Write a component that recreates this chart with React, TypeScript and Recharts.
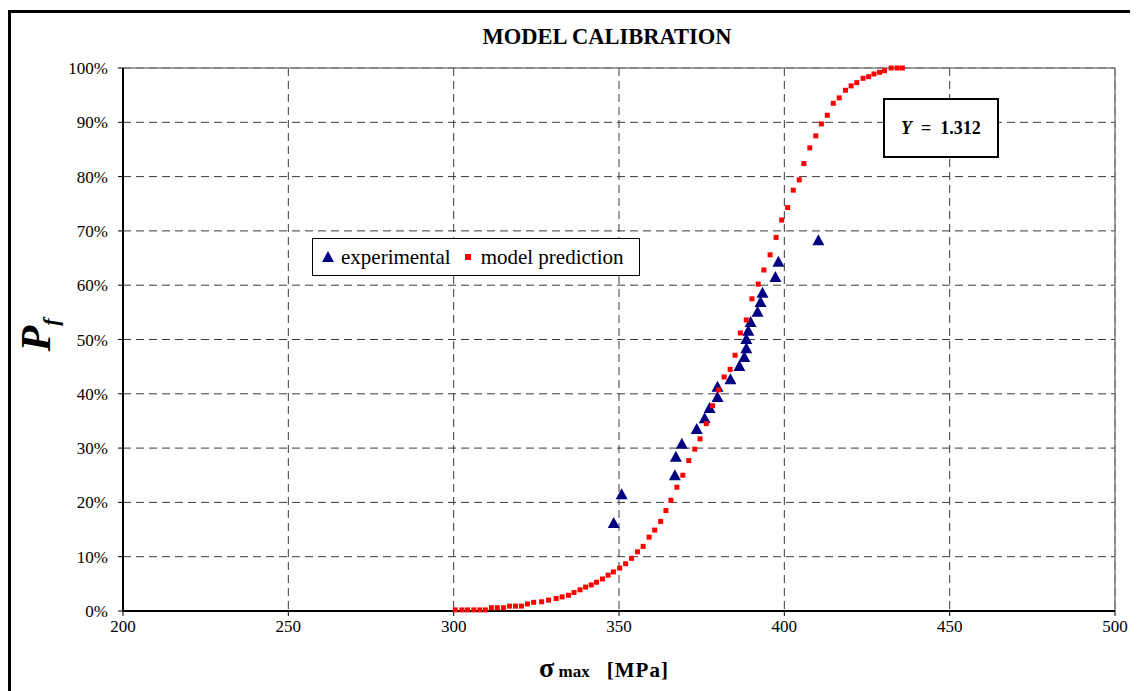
import React from "react"
import {
  ScatterChart, Scatter, XAxis, YAxis, CartesianGrid, ReferenceLine,
} from "recharts"

// experimental points: max stress [MPa] and failure probability [%]
const expStress = [
  348.4, 350.8, 366.9, 367.2, 369.0, 373.5, 375.9, 377.4, 379.8, 379.8, 383.7, 386.4,
  387.9, 388.5, 388.5, 389.1, 389.8, 391.9, 392.8, 393.4, 397.3, 398.2, 410.3,
]
const expPf = [
  16.2, 21.5, 25.0, 28.4, 30.8, 33.5, 35.5, 37.4, 39.4, 41.3, 42.7, 45.1,
  46.8, 48.4, 50.1, 51.6, 53.2, 55.1, 56.9, 58.6, 61.5, 64.3, 68.3,
]

// model prediction curve
const modelStress = [
  300.5, 302.5, 304.2, 306.1, 307.9, 309.6, 311.4, 313.2, 315.1, 316.9, 318.7, 320.5,
  322.3, 324.2, 326.6, 328.7, 331.0, 332.8, 334.7, 336.4, 338.2, 339.9, 341.6, 343.2,
  345.0, 346.7, 348.3, 350.2, 352.0, 353.8, 355.6, 357.3, 359.1, 360.8, 362.6, 364.2,
  365.7, 367.5, 369.3, 371.1, 372.9, 374.5, 376.4, 378.3, 380.1, 381.8, 383.6, 385.1,
  386.7, 388.5, 390.2, 392.1, 393.8, 395.7, 397.5, 399.2, 401.0, 402.7, 404.5, 405.9,
  407.7, 409.5, 411.2, 413.0, 414.8, 416.6, 418.5, 420.2, 421.9, 423.8, 425.5, 427.1,
  428.8, 430.3, 432.3, 434.1, 435.7,
]
const modelPf = [
  0.2, 0.2, 0.2, 0.2, 0.2, 0.2, 0.6, 0.6, 0.6, 0.9, 0.9, 0.9,
  1.3, 1.6, 1.7, 2.0, 2.3, 2.6, 2.9, 3.4, 3.9, 4.4, 4.8, 5.3,
  5.9, 6.6, 7.2, 7.9, 8.7, 9.7, 10.9, 11.9, 13.6, 14.9, 16.5, 18.5,
  20.4, 22.8, 25.0, 27.7, 29.8, 31.7, 34.5, 37.8, 40.7, 43.1, 44.5, 47.1,
  51.2, 53.6, 57.5, 60.2, 62.8, 65.6, 68.8, 72.0, 74.3, 77.5, 79.4, 82.4,
  85.3, 87.5, 89.7, 91.3, 93.5, 94.5, 95.9, 96.7, 97.3, 98.1, 98.4, 98.9,
  99.2, 99.5, 100, 100, 100,
]

const xTicks = [200, 250, 300, 350, 400, 450, 500]
const yTicks = [0, 10, 20, 30, 40, 50, 60, 70, 80, 90, 100]

const serif = '"Liberation Serif", "Times New Roman", serif'

const expData = expStress.map((s, i) => ({ s, p: expPf[i] }))
const modelData = modelStress.map((s, i) => ({ s, p: modelPf[i] }))

function Triangle(props: any) {
  const { cx, cy } = props
  if (cx == null || cy == null) return null
  return <polygon points={`${cx},${cy - 6} ${cx - 6},${cy + 5} ${cx + 6},${cy + 5}`} fill="#000080" />
}

function Square(props: any) {
  const { cx, cy } = props
  if (cx == null || cy == null) return null
  return <rect x={cx - 2.5} y={cy - 2.5} width={5} height={5} fill="#ff0000" />
}

export default function App() {
  return (
    <div style={{ position: "relative", width: 1130, height: 683, overflow: "hidden", fontFamily: serif }}>
      <style>{"body{overflow:hidden}"}</style>
      <div
        style={{
          position: "absolute", left: 0, top: 2, width: 1140, height: 700,
          border: "3px solid #000", boxSizing: "border-box", background: "#fff",
        }}
      />
      <div style={{ position: "absolute", left: 0, top: 0 }}>
        <ScatterChart width={1130} height={683} margin={{ top: 60, right: 23, bottom: 50, left: 55 }}>
          <CartesianGrid stroke="#3a3a3a" strokeDasharray="8 5" />
          <XAxis
            type="number" dataKey="s" domain={[200, 500]} ticks={xTicks} interval={0}
            height={30} tickSize={5} tickMargin={4}
            axisLine={{ stroke: "#000", strokeWidth: 2 }} tickLine={{ stroke: "#000" }}
            tick={{ fill: "#000", fontSize: 17, fontFamily: serif }}
          />
          <YAxis
            type="number" dataKey="p" domain={[0, 100]} ticks={yTicks} interval={0}
            width={60} tickSize={5} tickMargin={10}
            tickFormatter={(v: number) => `${v}%`}
            axisLine={{ stroke: "#000", strokeWidth: 2 }} tickLine={{ stroke: "#000" }}
            tick={{ fill: "#000", fontSize: 17, fontFamily: serif }}
          />
          <ReferenceLine y={100} stroke="#808080" strokeWidth={1.5} />
          <ReferenceLine x={500} stroke="#808080" strokeWidth={1.5} />
          <Scatter name="experimental" data={expData} shape={<Triangle />} isAnimationActive={false} />
          <Scatter name="model prediction" data={modelData} shape={<Square />} isAnimationActive={false} />
        </ScatterChart>
      </div>

      {/* title */}
      <div
        style={{
          position: "absolute", left: 399, top: 16, width: 400, textAlign: "center",
          fontSize: 22.5, fontWeight: "bold", color: "#000",
        }}
      >
        MODEL CALIBRATION
      </div>

      {/* legend */}
      <div
        style={{
          position: "absolute", left: 304, top: 230, width: 328, height: 38,
          border: "1px solid #000", background: "#fff", boxSizing: "border-box",
          display: "flex", alignItems: "center", fontSize: 21, color: "#000", whiteSpace: "nowrap",
        }}
      >
        <svg width={14} height={12} style={{ marginLeft: 8, marginRight: 6 }}>
          <polygon points="7,0 1,11 13,11" fill="#000080" />
        </svg>
        <span>experimental</span>
        <svg width={6} height={6} style={{ marginLeft: 14, marginRight: 10 }}>
          <rect x={0} y={0} width={6} height={6} fill="#ff0000" />
        </svg>
        <span>model prediction</span>
      </div>

      {/* parameter box */}
      <div
        style={{
          position: "absolute", left: 875, top: 90, width: 116, height: 60,
          border: "2px solid #000", background: "#fff", boxSizing: "border-box",
          display: "flex", alignItems: "center", justifyContent: "center",
          fontSize: 18, fontWeight: "bold", color: "#000", whiteSpace: "pre",
        }}
      >
        <span style={{ fontStyle: "italic" }}>Y</span>
        <span>{"  =  1.312"}</span>
      </div>

      {/* y axis label */}
      <div
        style={{
          position: "absolute", left: 30, top: 327, transform: "translate(-50%, -50%) rotate(-90deg)",
          whiteSpace: "nowrap", fontWeight: "bold", fontStyle: "italic", color: "#000",
        }}
      >
        <span style={{ fontSize: 42 }}>P</span>
        <sub style={{ fontSize: 22, verticalAlign: "-0.35em" }}>f</sub>
      </div>

      {/* x axis label */}
      <div
        style={{
          position: "absolute", left: 596, top: 660, transform: "translate(-50%, -50%)",
          whiteSpace: "pre", fontWeight: "bold", color: "#000", display: "flex", alignItems: "baseline",
        }}
      >
        <span style={{ fontSize: 28 }}>σ</span>
        <span style={{ fontSize: 17 }}>{" max    "}</span>
        <span style={{ fontSize: 21, letterSpacing: 1 }}>[MPa]</span>
      </div>
    </div>
  )
}
